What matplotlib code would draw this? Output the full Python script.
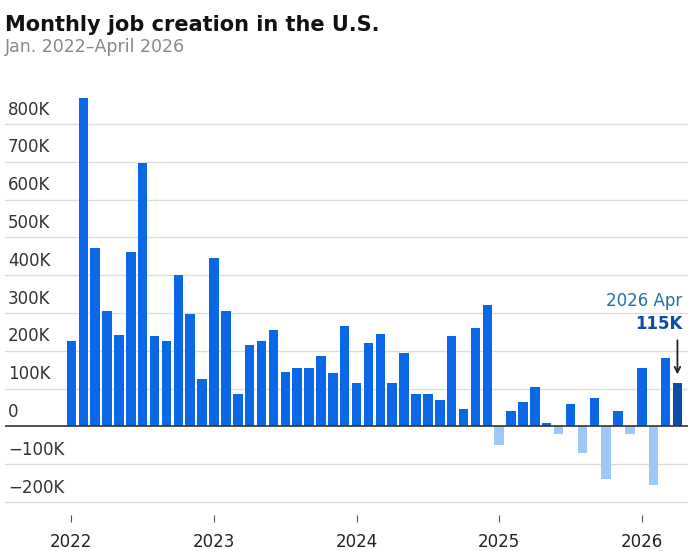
import matplotlib
matplotlib.use("Agg")
import matplotlib.pyplot as plt
import numpy as np

# monthly job change, thousands, Jan 2022 .. Apr 2026
jobs_2022 = [225, 869, 471, 306, 241, 462, 697, 238, 227, 400, 298, 126]
jobs_2023 = [445, 306, 85, 215, 225, 255, 145, 155, 155, 185, 140, 265]
jobs_2024 = [115, 220, 245, 115, 195, 85, 85, 70, 240, 45, 260, 320]
jobs_2025 = [-50, 40, 65, 105, 10, -20, 60, -70, 75, -140, 40, -20]
jobs_2026 = [155, -155, 180, 115]
years = ["2022", "2023", "2024", "2025", "2026"]
yticks = [-200, -100, 0, 100, 200, 300, 400, 500, 600, 700, 800]

vals = np.array(jobs_2022 + jobs_2023 + jobs_2024 + jobs_2025 + jobs_2026)
x = np.arange(len(vals))

blue = "#0a67e6"
light = "#9ec8f7"
dark = "#0a4ea8"
colors = [blue if v >= 0 else light for v in vals]
colors[-1] = dark

fig = plt.figure(figsize=(6.98, 5.51), dpi=100)
ax = fig.add_axes([0.007, 0.065, 0.978, 0.765])

ax.set_xlim(-5.6, 51.85)
ax.set_ylim(-235, 880)

for t in yticks:
    ax.axhline(t, color="#333333" if t == 0 else "#dddddd",
               lw=1.2 if t == 0 else 1, zorder=0 if t else 3)
    lab = "0" if t == 0 else f"{t}K".replace("-", "\u2212")
    ax.text(-5.35, t + 14, lab, fontsize=12, color="#333333", va="bottom", ha="left")

ax.bar(x, vals, width=0.8, color=colors, zorder=2)

ax.set_yticks([])
ax.set_xticks(np.arange(len(years)) * 12)
ax.set_xticklabels(years, fontsize=12, color="#222222")
ax.tick_params(axis="x", length=5, color="#555555", pad=8)
for s in ax.spines.values():
    s.set_visible(False)

# callout for the latest month
ax.text(x[-1] + 0.4, 318, "2026 Apr", ha="right", fontsize=12, color="#1f70b0")
ax.text(x[-1] + 0.4, 258, "115K", ha="right", fontsize=12, color=dark, fontweight="bold")
ax.annotate("", xy=(x[-1], vals[-1] + 15), xytext=(x[-1], 235),
            arrowprops=dict(arrowstyle="->", color="#222222", lw=1.3))

fig.text(0.007, 0.955, "Monthly job creation in the U.S.", fontsize=15,
         fontweight="bold", color="#111111", va="center")
fig.text(0.007, 0.915, "Jan. 2022\u2013April 2026", fontsize=12.5,
         color="#888888", va="center")

fig.savefig("out.png", dpi=100)
